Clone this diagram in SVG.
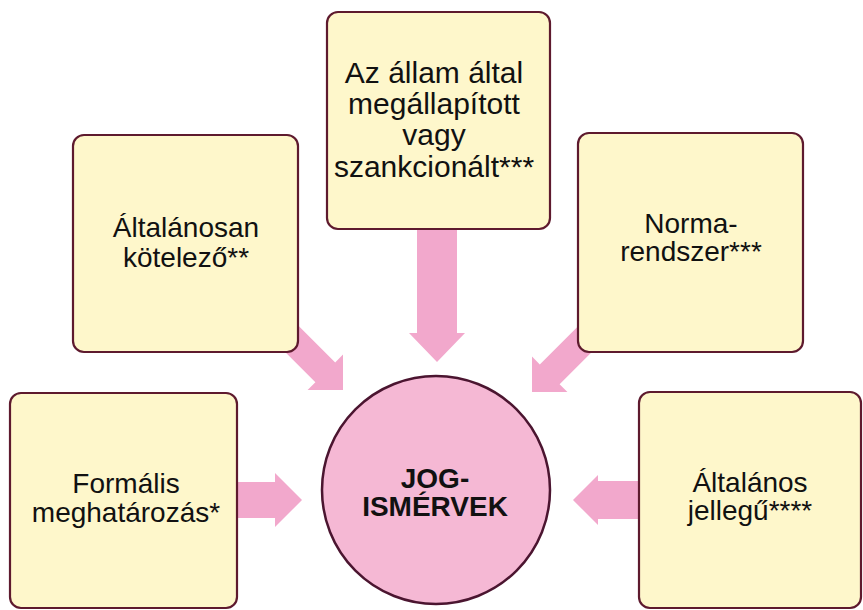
<svg xmlns="http://www.w3.org/2000/svg" width="863" height="610" viewBox="0 0 863 610">
<style>
.box{fill:#fef7cb;stroke:#5e1a2e;stroke-width:2.2}
.arrow{fill:#f2a8cc}
.t{font-family:"Liberation Sans",Arial,sans-serif;font-size:28px;fill:#111;text-anchor:middle}
.tb{font-family:"Liberation Sans",Arial,sans-serif;font-size:28px;font-weight:bold;fill:#111;text-anchor:middle}
</style>
<rect width="863" height="610" fill="#fff"/>
<g id="connectors">
<polygon class="arrow" points="417,229 457,229 457,333 465,333 437,362 409,333 417,333"/>
<polygon class="arrow" points="285.7,312.9 335.2,362.4 343,354.6 343,390 307.6,390 315.4,382.2 265.9,332.7"/>
<polygon class="arrow" points="589.3,314.9 539.8,364.4 532,356.6 532,392 567.4,392 559.6,384.2 609.1,334.7"/>
<polygon class="arrow" points="230,482 275,482 275,473 302,500 275,527 275,518 230,518"/>
<polygon class="arrow" points="645,481 598,481 598,475 573,500 598,525 598,519 645,519"/>
</g>
<g id="node-top">
<rect class="box" x="327" y="12" width="223" height="217" rx="11"/>
<text class="t" style="font-size:30px" x="434" y="83">Az állam által</text>
<text class="t" style="font-size:30px" x="434" y="114">megállapított</text>
<text class="t" style="font-size:30px" x="434" y="145">vagy</text>
<text class="t" style="font-size:30px" x="434" y="177">szankcionált***</text>
</g>
<g id="node-top-left">
<rect class="box" x="73" y="135" width="225" height="217" rx="11"/>
<text class="t" x="186" y="237">Általánosan</text>
<text class="t" x="186" y="267">kötelező**</text>
</g>
<g id="node-top-right">
<rect class="box" x="578" y="133" width="225" height="219" rx="11"/>
<text class="t" x="691" y="233">Norma-</text>
<text class="t" x="691" y="261">rendszer***</text>
</g>
<g id="node-bottom-left">
<rect class="box" x="10" y="393" width="227" height="215" rx="11"/>
<text class="t" x="126" y="493">Formális</text>
<text class="t" x="126" y="522">meghatározás*</text>
</g>
<g id="node-bottom-right">
<rect class="box" x="639" y="392" width="222" height="216" rx="11"/>
<text class="t" x="750" y="492">Általános</text>
<text class="t" x="750" y="520">jellegű****</text>
</g>
<g id="node-center">
<circle cx="436" cy="490" r="114" fill="#f5b8d4" stroke="#4b1530" stroke-width="2.5"/>
<text class="tb" x="435" y="488">JOG-</text>
<text class="tb" x="435" y="516">ISMÉRVEK</text>
</g>
</svg>
